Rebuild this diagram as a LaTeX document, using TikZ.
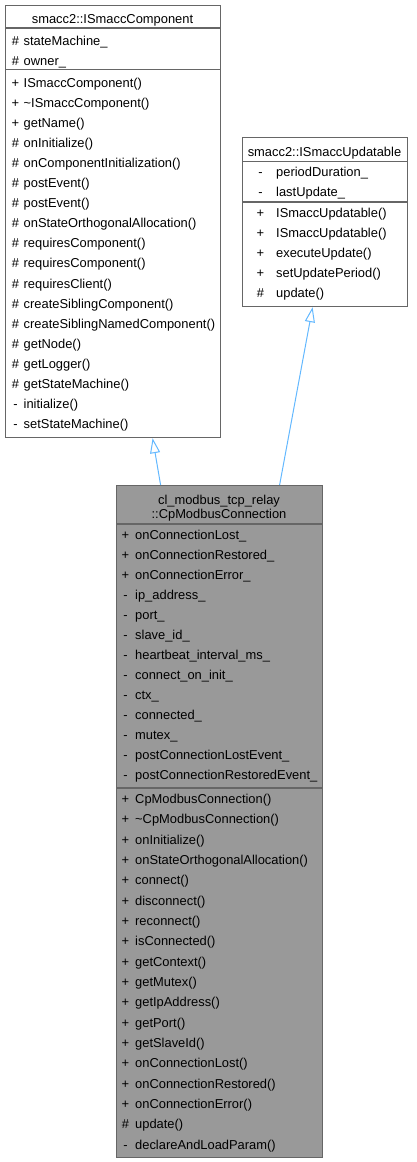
\documentclass[tikz,border=0pt]{standalone}
\usepackage{fontspec}
\setmainfont{Liberation Sans}
\usetikzlibrary{arrows.meta}
\definecolor{edgeblue}{HTML}{63B8FF}
\definecolor{boxline}{HTML}{666666}
\definecolor{boxfill}{HTML}{999999}
\begin{document}
\begin{tikzpicture}[x=1pt, y=-1pt,
  classbox/.style={draw=boxline, line width=1.2pt, inner sep=0pt, anchor=north west},
  sepline/.style={draw=boxline, line width=1.2pt},
  member/.style={font=\fontsize{12.9}{15}\selectfont, inner sep=0pt, anchor=base west},
  vis/.style={font=\fontsize{12.9}{15}\selectfont, inner sep=0pt, anchor=base},
  inherit/.style={draw=edgeblue, line width=1pt, -{Triangle[open, length=15pt, width=10pt]}}]
  \useasboundingbox (0,0) rectangle (416,1162);

  % base class: ISmaccComponent
  \node[classbox, minimum width=215pt, minimum height=432pt] (comp) at (5,5) {};
  \node[vis] (comptitle) at (112.5,23.3) {smacc2::ISmaccComponent};
  \draw[sepline] (5,28) -- (220,28);
  \draw[sepline] (5,69.5) -- (220,69.5);
  \foreach \v/\m [count=\i from 0] in {\#/stateMachine\_, \#/owner\_} {
    \node[vis] (compav\i) at (15.5,45+20.5*\i) {\v};
    \node[member] (compa\i) at (23.5,45+20.5*\i) {\m};
  }
  \foreach \v/\m [count=\i from 0] in {+/ISmaccComponent(), +/\textasciitilde ISmaccComponent(),
      +/getName(), \#/onInitialize(), \#/onComponentInitialization(), \#/postEvent(),
      \#/postEvent(), \#/onStateOrthogonalAllocation(), \#/requiresComponent(),
      \#/requiresComponent(), \#/requiresClient(), \#/createSiblingComponent(),
      \#/createSiblingNamedComponent(), \#/getNode(), \#/getLogger(),
      \#/getStateMachine(), -/initialize(), -/setStateMachine()} {
    \node[vis] (compmv\i) at (15.5,87.5+20.05*\i) {\v};
    \node[member] (compm\i) at (23.5,87.5+20.05*\i) {\m};
  }

  % base class: ISmaccUpdatable
  \node[classbox, minimum width=165pt, minimum height=169pt] (upd) at (242,137) {};
  \node[vis] (updtitle) at (324.5,156) {smacc2::ISmaccUpdatable};
  \draw[sepline] (242,161.5) -- (407,161.5);
  \draw[sepline] (242,202) -- (407,202);
  \foreach \v/\m [count=\i from 0] in {-/periodDuration\_, -/lastUpdate\_} {
    \node[vis] (updav\i) at (260.5,176.7+20*\i) {\v};
    \node[member] (upda\i) at (276,176.7+20*\i) {\m};
  }
  \foreach \v/\m [count=\i from 0] in {+/ISmaccUpdatable(), +/ISmaccUpdatable(),
      +/executeUpdate(), +/setUpdatePeriod(), \#/update()} {
    \node[vis] (updmv\i) at (260.5,217.7+20*\i) {\v};
    \node[member] (updm\i) at (276,217.7+20*\i) {\m};
  }

  % derived class: CpModbusConnection
  \node[classbox, fill=boxfill, minimum width=206pt, minimum height=672pt] (conn) at (116,485) {};
  \node[vis] (conntitlea) at (219,504) {cl\_modbus\_tcp\_relay};
  \node[vis] (conntitleb) at (219,518) {::CpModbusConnection};
  \draw[sepline] (116,524) -- (322,524);
  \draw[sepline] (116,788) -- (322,788);
  \foreach \v/\m [count=\i from 0] in {+/onConnectionLost\_, +/onConnectionRestored\_,
      +/onConnectionError\_, -/ip\_address\_, -/port\_, -/slave\_id\_,
      -/heartbeat\_interval\_ms\_, -/connect\_on\_init\_, -/ctx\_, -/connected\_,
      -/mutex\_, -/postConnectionLostEvent\_, -/postConnectionRestoredEvent\_} {
    \node[vis] (connav\i) at (125.5,539+20*\i) {\v};
    \node[member] (conna\i) at (135,539+20*\i) {\m};
  }
  \foreach \v/\m [count=\i from 0] in {+/CpModbusConnection(), +/\textasciitilde CpModbusConnection(),
      +/onInitialize(), +/onStateOrthogonalAllocation(), +/connect(), +/disconnect(),
      +/reconnect(), +/isConnected(), +/getContext(), +/getMutex(), +/getIpAddress(),
      +/getPort(), +/getSlaveId(), +/onConnectionLost(), +/onConnectionRestored(),
      +/onConnectionError(), \#/update(), -/declareAndLoadParam()} {
    \node[vis] (connmv\i) at (125.5,803.3+20.35*\i) {\v};
    \node[member] (connm\i) at (135,803.3+20.35*\i) {\m};
  }

  % inheritance
  \draw[inherit] ([xshift=-59pt]conn.north) -- ([xshift=39.5pt]comp.south);
  \draw[inherit] ([xshift=60pt]conn.north) -- ([xshift=-12.5pt]upd.south);
\end{tikzpicture}
\end{document}
